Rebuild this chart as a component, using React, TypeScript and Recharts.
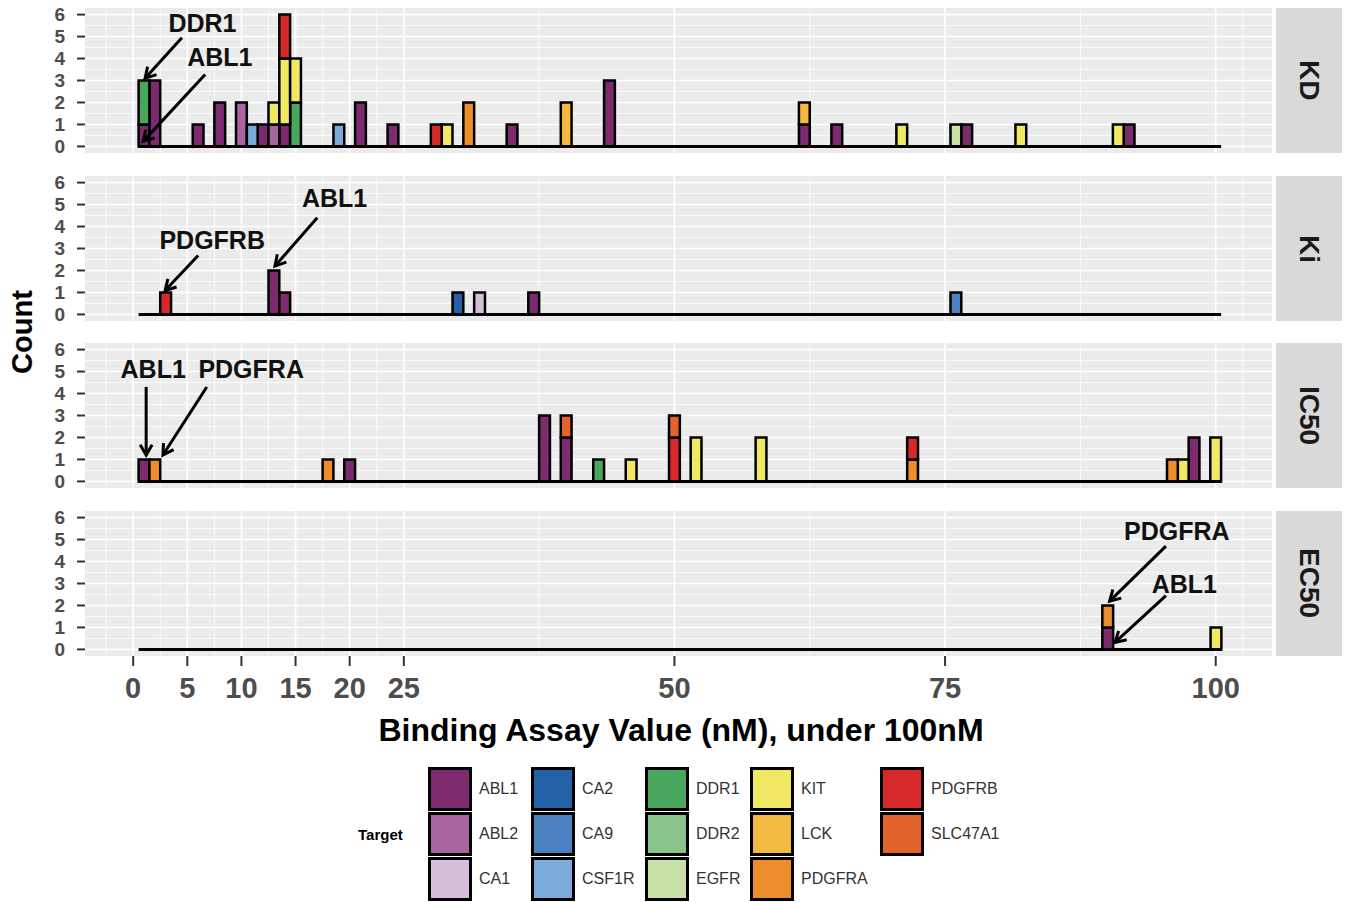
import React from "react";
import { BarChart, Bar, XAxis, YAxis, CartesianGrid, ReferenceLine, ReferenceDot } from "recharts";

const FONT = "'Liberation Sans', Arial, sans-serif";

const targets = ["ABL1", "ABL2", "CA1", "CA2", "CA9", "CSF1R", "DDR1", "DDR2", "EGFR", "KIT", "LCK", "PDGFRA", "PDGFRB", "SLC47A1"];
const targetColors = ["#7d2a6f", "#a9659f", "#d6bedb", "#2362a9", "#4b80c1", "#7aaad9", "#49a65c", "#8bc48b", "#c9e1a9", "#f1e963", "#f2b943", "#ed8d2c", "#d62a2a", "#e2632b"];

// [bin (nM), target, count]
const kdCounts: [number, string, number][] = [
  [1, "ABL1", 1], [1, "DDR1", 2], [2, "ABL1", 3], [6, "ABL1", 1], [8, "ABL1", 2],
  [10, "ABL2", 2], [11, "CSF1R", 1], [12, "ABL1", 1], [13, "ABL2", 1], [13, "KIT", 1],
  [14, "ABL1", 1], [14, "KIT", 3], [14, "PDGFRB", 2], [15, "DDR1", 2], [15, "KIT", 2],
  [19, "CSF1R", 1], [21, "ABL1", 2], [24, "ABL1", 1], [28, "PDGFRB", 1], [29, "KIT", 1],
  [31, "PDGFRA", 2], [35, "ABL1", 1], [40, "LCK", 2], [44, "ABL1", 3], [62, "ABL1", 1],
  [62, "LCK", 1], [65, "ABL1", 1], [71, "KIT", 1], [76, "EGFR", 1], [77, "ABL1", 1],
  [82, "KIT", 1], [91, "KIT", 1], [92, "ABL1", 1],
];
const kiCounts: [number, string, number][] = [
  [3, "PDGFRB", 1], [13, "ABL1", 2], [14, "ABL1", 1], [30, "CA2", 1], [32, "CA1", 1],
  [37, "ABL1", 1], [76, "CA9", 1],
];
const ic50Counts: [number, string, number][] = [
  [1, "ABL1", 1], [2, "PDGFRA", 1], [18, "PDGFRA", 1], [20, "ABL1", 1], [38, "ABL1", 3],
  [40, "ABL1", 2], [40, "SLC47A1", 1], [43, "DDR1", 1], [46, "KIT", 1], [50, "PDGFRB", 2],
  [50, "SLC47A1", 1], [52, "KIT", 2], [58, "KIT", 2], [72, "PDGFRA", 1], [72, "PDGFRB", 1],
  [96, "PDGFRA", 1], [97, "KIT", 1], [98, "ABL1", 2], [100, "KIT", 2],
];
const ec50Counts: [number, string, number][] = [
  [90, "ABL1", 1], [90, "PDGFRA", 1], [100, "KIT", 1],
];

const xTicks = [0, 5, 10, 15, 20, 25, 50, 75, 100];
const xMinor = [-2.5, 2.5, 7.5, 12.5, 17.5, 22.5, 37.5, 62.5, 87.5, 102.5];
const yTicks = [0, 1, 2, 3, 4, 5, 6];
const yMinor = [0.5, 1.5, 2.5, 3.5, 4.5, 5.5];

type Note = { text: string; tx: number; ty: number; x1: number; y1: number; x2: number; y2: number };

const kdNotes: Note[] = [
  { text: "DDR1", tx: 6.4, ty: 5.6, x1: 4.5, y1: 4.95, x2: 1.1, y2: 3.1 },
  { text: "ABL1", tx: 8.0, ty: 4.05, x1: 6.65, y1: 3.27, x2: 0.92, y2: 0.23 },
];
const kiNotes: Note[] = [
  { text: "PDGFRB", tx: 7.3, ty: 3.4, x1: 6.0, y1: 2.68, x2: 2.95, y2: 1.09 },
  { text: "ABL1", tx: 18.6, ty: 5.3, x1: 17.0, y1: 4.4, x2: 13.1, y2: 2.2 },
];
const ic50Notes: Note[] = [
  { text: "ABL1", tx: 1.85, ty: 5.1, x1: 1.2, y1: 4.3, x2: 1.2, y2: 1.2 },
  { text: "PDGFRA", tx: 10.9, ty: 5.1, x1: 6.8, y1: 4.3, x2: 2.75, y2: 1.2 },
];
const ec50Notes: Note[] = [
  { text: "PDGFRA", tx: 96.4, ty: 5.4, x1: 95.4, y1: 4.7, x2: 90.2, y2: 2.2 },
  { text: "ABL1", tx: 97.1, ty: 2.98, x1: 95.4, y1: 2.45, x2: 90.7, y2: 0.32 },
];

function buildRows(counts: [number, string, number][]) {
  const byBin = new Map<number, any>();
  counts.forEach(([bin, t, n]) => {
    if (!byBin.has(bin)) {
      const row: any = { bin };
      targets.forEach((k) => (row[k] = 0));
      byBin.set(bin, row);
    }
    byBin.get(bin)[t] = n;
  });
  return [...byBin.values()].sort((a, b) => a.bin - b.bin);
}

const arrowShape = (p: any) => {
  const { x1, y1, x2, y2 } = p;
  const ang = Math.atan2(y2 - y1, x2 - x1);
  const len = 12;
  const s = Math.PI / 6;
  const ax = x2 - len * Math.cos(ang - s);
  const ay = y2 - len * Math.sin(ang - s);
  const bx = x2 - len * Math.cos(ang + s);
  const by = y2 - len * Math.sin(ang + s);
  return (
    <g>
      <line x1={x1} y1={y1} x2={x2} y2={y2} stroke="#000" strokeWidth={3} />
      <polyline points={`${ax},${ay} ${x2},${y2} ${bx},${by}`} fill="none" stroke="#000" strokeWidth={3} />
    </g>
  );
};

const textShape = (label: string) => (p: any) => (
  <text x={p.cx} y={p.cy} textAnchor="middle" dominantBaseline="central" fontFamily={FONT} fontWeight="bold" fontSize={25} fill="#111">
    {label}
  </text>
);

const PANEL_H = 145;

function Panel({ name, counts, notes, top, showAxis }: { name: string; counts: [number, string, number][]; notes: Note[]; top: number; showAxis?: boolean }) {
  const rows = buildRows(counts);
  const axisH = showAxis ? 50 : 0;
  return (
    <>
      <div style={{ position: "absolute", left: 0, top: top - 4 }}>
        <BarChart width={1349} height={PANEL_H + 8 + axisH} data={rows} margin={{ top: 4, right: 77, bottom: 4, left: 0 }} barSize={10.8} barGap={0}>
          <CartesianGrid fill="#ebebeb" stroke="#ffffff" strokeWidth={0.8} horizontalValues={yMinor} verticalValues={xMinor} />
          <CartesianGrid stroke="#ffffff" strokeWidth={1.6} horizontalValues={yTicks} verticalValues={xTicks} />
          <XAxis
            type="number"
            dataKey="bin"
            domain={[-4.45, 105.2]}
            ticks={xTicks}
            interval={0}
            allowDataOverflow
            hide={!showAxis}
            height={axisH}
            axisLine={false}
            tickSize={10}
            tickMargin={11}
            tickLine={{ stroke: "#333", strokeWidth: 2 }}
            tick={{ fill: "#4d4d4d", fontSize: 29, fontWeight: "bold", fontFamily: FONT }}
          />
          <YAxis
            type="number"
            domain={[-0.3, 6.3]}
            ticks={yTicks}
            interval={0}
            allowDataOverflow
            width={85}
            axisLine={false}
            tickSize={8}
            tickMargin={12}
            tickLine={{ stroke: "#333", strokeWidth: 2 }}
            tick={{ fill: "#4d4d4d", fontSize: 19, fontWeight: "bold", fontFamily: FONT }}
          />
          {targets.map((t, i) => (
            <Bar key={t} dataKey={t} stackId="s" fill={targetColors[i]} stroke="#000" strokeWidth={2.5} isAnimationActive={false} />
          ))}
          <ReferenceLine segment={[{ x: 0.5, y: 0 }, { x: 100.5, y: 0 }]} stroke="#000" strokeWidth={3} />
          {notes.map((n) => (
            <ReferenceLine key={n.text + "a"} segment={[{ x: n.x1, y: n.y1 }, { x: n.x2, y: n.y2 }]} shape={arrowShape} />
          ))}
          {notes.map((n) => (
            <ReferenceDot key={n.text + "t"} x={n.tx} y={n.ty} r={1} shape={textShape(n.text)} />
          ))}
        </BarChart>
      </div>
      <div
        style={{
          position: "absolute",
          left: 1276,
          top,
          width: 66,
          height: PANEL_H,
          background: "#d9d9d9",
          display: "flex",
          alignItems: "center",
          justifyContent: "center",
        }}
      >
        <span style={{ writingMode: "vertical-rl", fontFamily: FONT, fontWeight: "bold", fontSize: 28, color: "#1a1a1a" }}>{name}</span>
      </div>
    </>
  );
}

const legendCols = [428, 531, 645, 750, 880];
const legendRows = [767, 812, 857];

export default function App() {
  return (
    <div style={{ position: "absolute", left: 0, top: 0, width: 1349, height: 902, background: "#fff", overflow: "hidden" }}>
      <Panel name="KD" counts={kdCounts} notes={kdNotes} top={8} />
      <Panel name="Ki" counts={kiCounts} notes={kiNotes} top={176} />
      <Panel name="IC50" counts={ic50Counts} notes={ic50Notes} top={343} />
      <Panel name="EC50" counts={ec50Counts} notes={ec50Notes} top={511} showAxis />
      <div
        style={{
          position: "absolute",
          left: 22,
          top: 332,
          transform: "translate(-50%, -50%) rotate(-90deg)",
          fontFamily: FONT,
          fontWeight: "bold",
          fontSize: 29,
          color: "#000",
          whiteSpace: "nowrap",
        }}
      >
        Count
      </div>
      <div
        style={{
          position: "absolute",
          left: 681,
          top: 730,
          transform: "translate(-50%, -50%)",
          fontFamily: FONT,
          fontWeight: "bold",
          fontSize: 32,
          color: "#000",
          whiteSpace: "nowrap",
        }}
      >
        Binding Assay Value (nM), under 100nM
      </div>
      <div style={{ position: "absolute", left: 358, top: 826, fontFamily: FONT, fontWeight: "bold", fontSize: 15, color: "#000" }}>Target</div>
      {targets.map((t, i) => {
        const col = Math.floor(i / 3);
        const row = i % 3;
        return (
          <div key={t} style={{ position: "absolute", left: legendCols[col], top: legendRows[row], display: "flex", alignItems: "center" }}>
            <div style={{ width: 38, height: 38, background: targetColors[i], border: "3.5px solid #000" }} />
            <span style={{ marginLeft: 7, fontFamily: FONT, fontSize: 16, color: "#333" }}>{t}</span>
          </div>
        );
      })}
    </div>
  );
}
